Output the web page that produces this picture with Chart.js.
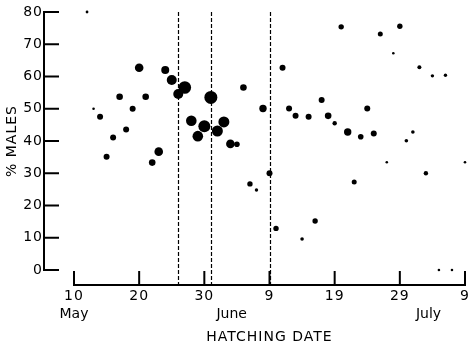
<!DOCTYPE html>
<html><head><meta charset="utf-8">
<script src="https://cdn.jsdelivr.net/npm/chart.js@4.4.1/dist/chart.umd.min.js"></script>
<style>html,body{margin:0;padding:0;background:#fff;}</style>
</head><body>
<canvas id="c" width="470" height="346"></canvas>
<script>
// Hatching day counted from 1 May (May 31 = 31, June 9 = 40, July 9 = 70)
const hatchDay = [9,12,13,14,15,16,17,18,19,20,21,22,23,24,25,26,27,28,29,30,31,32,33,34,35,36,37,38,39,40,41,42,43,44,45,46,47,48,49,50,51,52,53,54,55,56,57,58,59,60,61,62,63,64,65,66,67,68,70];
const percentMales = [25.0,80,50.0,47.5,35.1,41.1,53.7,43.6,50.0,62.7,53.7,33.3,36.7,62.0,58.9,54.6,56.6,46.3,41.5,44.6,53.5,43.1,45.9,39.1,39.0,56.6,26.7,24.8,50.1,30.0,12.9,62.7,50.1,47.8,9.6,47.5,15.2,52.7,47.8,45.5,75.4,42.8,27.3,41.3,50.1,42.3,73.2,33.4,67.2,75.6,40.1,42.8,62.9,30.0,60.2,0,60.4,0,33.4];
// relative sample size (dot radius)
const sampleSize = [1.3,1.4,1.3,3,3,3,3.3,3,3,4.3,3.3,3.3,4.3,4,5,5,6.3,5.3,5.3,6,6.5,5.5,5.5,4.3,2.8,3.3,2.7,1.7,3.7,3,2.7,3,3,3,1.8,3,2.7,3,3.3,2.2,2.7,3.7,2.5,2.8,3,3,2.5,1.3,1.3,2.7,1.8,1.8,2,2.2,1.7,1.3,1.7,1.3,1.3];
const tickDays = [10,20,30,40,50,60,70];
const tickLabels = ['10','20','30','9','19','29','9'];
const yTickValues = [0,10,20,30,40,50,60,70,80];
const monthNames = ['May','June','July'];
const monthDays = [10,34.2,64.4];
const markerDays = [26,31,40];

const FONT = 'DejaVu Sans';

const spacingPlugin = {
  id: 'spacingPlugin',
  beforeUpdate(chart) { chart.ctx.letterSpacing = '1px'; },
  beforeDraw(chart) { chart.ctx.letterSpacing = '1px'; }
};

const axesPlugin = {
  id: 'axesPlugin',
  beforeDatasetsDraw(chart) {
    const {ctx, chartArea: ca} = chart;
    const x = chart.scales.x, y = chart.scales.y;
    ctx.save();
    ctx.strokeStyle = '#000';
    // dashed reference lines
    ctx.lineWidth = 1.2;
    ctx.setLineDash([4, 2]);
    markerDays.forEach(d => {
      const px = Math.round(x.getPixelForValue(d)) + 0.5;
      ctx.beginPath();
      ctx.moveTo(px, y.getPixelForValue(80));
      ctx.lineTo(px, ca.bottom + 15);
      ctx.stroke();
    });
    ctx.setLineDash([]);
    ctx.lineWidth = 2;
    // y axis
    const ax = ca.left - 30;
    ctx.beginPath();
    ctx.moveTo(ax, y.getPixelForValue(80) - 1);
    ctx.lineTo(ax, y.getPixelForValue(0) + 1);
    yTickValues.forEach(v => {
      const py = y.getPixelForValue(v);
      ctx.moveTo(ax - 1, py);
      ctx.lineTo(ax + 15, py);
    });
    ctx.stroke();
    // x axis
    const ay = ca.bottom + 15;
    ctx.beginPath();
    ctx.moveTo(x.getPixelForValue(10) - 1, ay);
    ctx.lineTo(x.getPixelForValue(70) + 1, ay);
    tickDays.forEach(d => {
      const px = x.getPixelForValue(d);
      ctx.moveTo(px, ay + 1);
      ctx.lineTo(px, ay - 14);
    });
    ctx.stroke();
    // month names
    ctx.fillStyle = '#000';
    ctx.letterSpacing = '0px';
    ctx.font = '14px "' + FONT + '"';
    ctx.textAlign = 'center';
    ctx.textBaseline = 'middle';
    monthNames.forEach((m, i) => ctx.fillText(m, x.getPixelForValue(monthDays[i]), ca.bottom + 44));
    ctx.restore();
  }
};

const zeroPad = s => { s.paddingTop = 0; s.paddingBottom = 0; s.paddingLeft = 0; s.paddingRight = 0; };

new Chart(document.getElementById('c'), {
  type: 'bubble',
  data: {
    datasets: [{
      data: hatchDay.map((d, i) => ({x: d, y: percentMales[i], r: sampleSize[i]})),
      backgroundColor: '#000',
      borderWidth: 0,
      hoverRadius: 0,
      clip: false
    }]
  },
  options: {
    responsive: false,
    animation: false,
    devicePixelRatio: 1,
    layout: {autoPadding: false, padding: {top: 12, right: 5, left: 0, bottom: 0}},
    plugins: {legend: {display: false}, tooltip: {enabled: false}},
    scales: {
      x: {
        type: 'linear', min: 10, max: 70,
        grid: {display: false, drawTicks: false},
        border: {display: false},
        afterBuildTicks: s => { s.ticks = tickDays.map(v => ({value: v})); },
        ticks: {
          padding: 18, maxRotation: 0, autoSkip: false, color: '#000',
          font: {family: FONT, size: 14},
          callback: (v, i) => tickLabels[i]
        },
        title: {display: true, text: 'HATCHING DATE', color: '#000', font: {family: FONT, size: 14}, padding: {top: 3, bottom: 0}},
        afterFit: s => { s.height = 76; zeroPad(s); }
      },
      y: {
        type: 'linear', min: 0, max: 80,
        grid: {display: false, drawTicks: false},
        border: {display: false},
        afterBuildTicks: s => { s.ticks = yTickValues.map(v => ({value: v})); },
        ticks: {padding: 31, color: '#000', font: {family: FONT, size: 14}},
        title: {display: true, text: '% MALES', color: '#000', font: {family: FONT, size: 14}, padding: {top: 4, bottom: 0}},
        afterFit: s => { s.width = 74; zeroPad(s); }
      }
    }
  },
  plugins: [spacingPlugin, axesPlugin]
});
</script>
</body></html>
